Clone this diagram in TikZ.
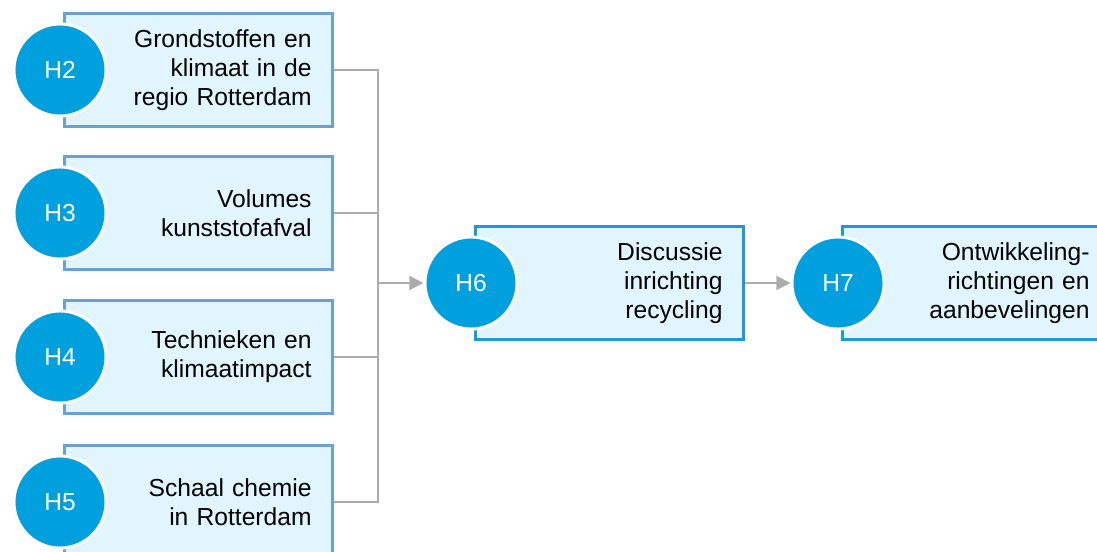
\documentclass[tikz,border=0pt]{standalone}
\usepackage{fontspec}
\setmainfont{Liberation Sans}
\usetikzlibrary{arrows.meta}
\colorlet{boxfill}{cyan!12!white}
\definecolor{boxline}{HTML}{6C9FD6}
\definecolor{boxlinemain}{HTML}{1B9AD6}
\definecolor{chapblue}{HTML}{009FDE}
\colorlet{linkgray}{gray!65}

\tikzset{
    chapbox/.style={rectangle, draw=boxline, fill=boxfill, line width=0.85pt,
        minimum width=2.67cm, minimum height=1.12cm, text width=2.26cm,
        inner xsep=0.19cm, align=right,
        font=\fontsize{7}{8.25}\selectfont},
    mainbox/.style={chapbox, draw=boxlinemain},
    chapcircle/.style={circle, fill=chapblue, draw=white, line width=0.85pt,
        minimum size=0.92cm, inner sep=0pt, text=white,
        font=\fontsize{7}{8.25}\selectfont},
    link/.style={draw=linkgray, line width=0.4pt}
}

\begin{document}
\begin{tikzpicture}[x=0.01cm, y=-0.01cm]
        \useasboundingbox (0,0) rectangle (1097,552);
        % coordinates
        \coordinate (J) at (378,283);
        % boxes
        \node[chapbox] (B2) at (198.5,70) {Grondstoffen en\\klimaat in de\\regio Rotterdam};
        \node[chapbox] (B3) at (198.5,213) {Volumes\\kunststofafval};
        \node[chapbox] (B4) at (198.5,357) {Technieken en\\klimaatimpact};
        \node[chapbox] (B5) at (198.5,502) {Schaal chemie\\in Rotterdam};
        \node[mainbox] (B6) at (609.5,283) {Discussie\\inrichting\\recycling};
        \node[mainbox] (B7) at (976.5,283) {Ontwikkeling-\\richtingen en\\aanbevelingen};
        % circles
        \foreach \n/\y in {2/70, 3/213, 4/357, 5/502}
        {
            \node[chapcircle] (C\n) at (60,\y) {H\n};
        }
        \node[chapcircle] (C6) at (471,283) {H6};
        \node[chapcircle] (C7) at (838,283) {H7};
        % arrows
        \draw[link] (B2.east) -| (J);
        \draw[link] (B5.east) -| (J);
        \draw[link] (B3.east) -- (B3.east -| J);
        \draw[link] (B4.east) -- (B4.east -| J);
        \draw[link][-{Triangle[length=4pt, width=4pt]}] (J) -- (C6.west);
        \draw[link][-{Triangle[length=4pt, width=4pt]}] (B6.east) -- (C7.west);
    \end{tikzpicture}
\end{document}
